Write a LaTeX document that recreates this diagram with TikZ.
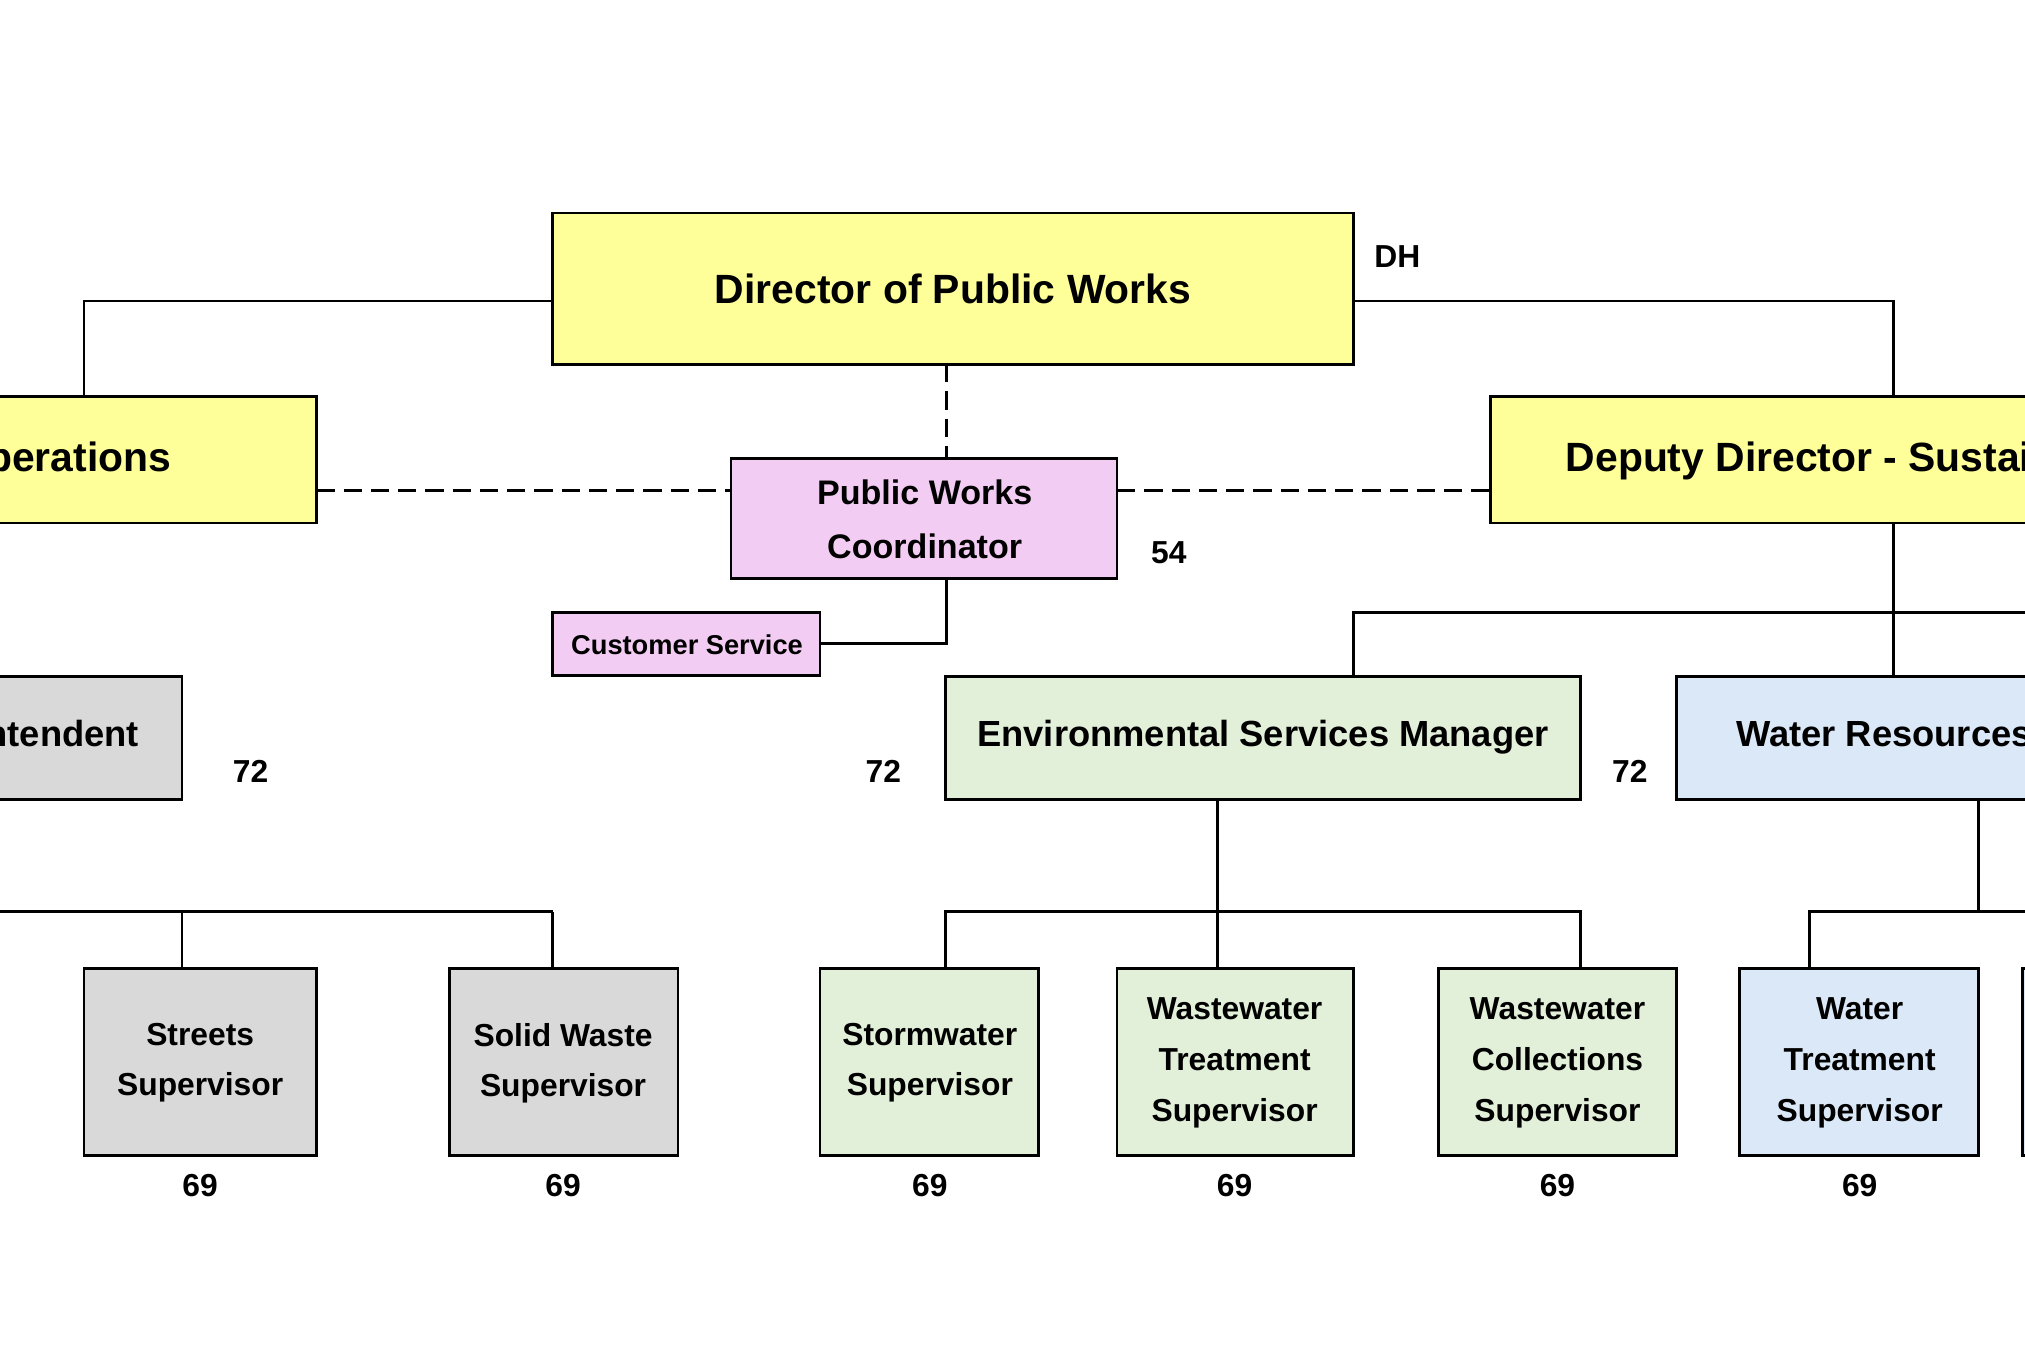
\documentclass[tikz,border=0pt]{standalone}
\usepackage{fontspec}
\setmainfont{Liberation Sans}
\begin{document}
\begin{tikzpicture}[x=0.01cm,y=-0.01cm,
  bx/.style={draw=black,line width=0.6pt,align=center,font=\bfseries\fontsize{7}{11}\selectfont,inner sep=0pt},
  ln/.style={line width=0.6pt},
  dl/.style={line width=0.6pt,dash pattern=on 4pt off 2pt},
  num/.style={font=\bfseries\fontsize{7}{8}\selectfont}]
\useasboundingbox (0,0) rectangle (1568,1045);
\clip (0,0) rectangle (1568,1045);
\definecolor{yel}{HTML}{FFFF99}
\definecolor{pnk}{HTML}{F2CCF2}
\definecolor{grn}{HTML}{E2F0D9}
\definecolor{blu}{HTML}{DAE8F7}
\definecolor{gry}{HTML}{D9D9D9}
% top level
\draw[bx,fill=yel] (428,165) rectangle (1048,282);
\node[font=\bfseries\fontsize{9}{11}\selectfont] (dir) at (738,224) {Director of Public Works};
\node[num] (dh) at (1082,199) {DH};
\draw[bx,fill=yel] (-20,307) rectangle (245,405);
\node[font=\bfseries\fontsize{9}{11}\selectfont,anchor=east] (ops) at (145,357) {Deputy Director - Operations};
\draw[bx,fill=yel] (1154,307) rectangle (1600,405);
\node[font=\bfseries\fontsize{9}{11}\selectfont,anchor=west] (sus) at (1200,357) {Deputy Director - Sustainability};
\draw[ln] (428,233) -| (65,307);
\draw[ln] (1048,233) -| (1466,307);
% coordinator
\draw[dl] (733,282) -- (733,355);
\draw[bx,fill=pnk] (566,355) rectangle (865,448);
\node[align=center,font=\bfseries\fontsize{7.5}{12}\selectfont] (pwc) at (716,402) {Public Works\\Coordinator};
\node[num] (n54) at (905,428) {54};
\draw[dl] (245,380) -- (566,380);
\draw[dl] (865,380) -- (1154,380);
\draw[bx,fill=pnk] (428,474) rectangle (635,523);
\node[font=\bfseries\fontsize{6}{8}\selectfont] (cs) at (532,499) {Customer Service};
\draw[ln] (635,498) -| (733,448);
% managers
\draw[bx,fill=gry] (-20,524) rectangle (141,619);
\node[font=\bfseries\fontsize{8}{10}\selectfont,anchor=east] (sup) at (120,571) {Superintendent};
\node[num] at (194,597) {72};
\node[num] at (684,597) {72};
\draw[bx,fill=grn] (732,524) rectangle (1224,619);
\node[font=\bfseries\fontsize{8}{10}\selectfont] (env) at (978,571) {Environmental Services Manager};
\node[num] at (1262,597) {72};
\draw[bx,fill=blu] (1298,524) rectangle (1600,619);
\node[font=\bfseries\fontsize{8}{10}\selectfont,anchor=west] (wr) at (1332,571) {Water Resources Manager};
\draw[ln] (1466,405) -- (1466,524);
\draw[ln] (1048,524) |- (1600,474);
% supervisors
\draw[ln] (0,706) -- (428,706);
\draw[ln] (141,706) -- (141,750);
\draw[ln] (428,706) -- (428,750);
\draw[ln] (943,619) -- (943,706);
\draw[ln] (732,750) |- (1224,706) -- (1224,750);
\draw[ln] (943,706) -- (943,750);
\draw[ln] (1532,619) -- (1532,706);
\draw[ln] (1401,750) |- (1600,706);
\draw[bx,fill=gry] (-200,750) rectangle (-2,895);
\draw[bx,fill=gry] (65,750) rectangle (245,895);
\node[bx,draw=none] at (155,823) {Streets\\Supervisor};
\draw[bx,fill=gry] (348,750) rectangle (525,895);
\node[bx,draw=none] at (436,823) {Solid Waste\\Supervisor};
\draw[bx,fill=grn] (635,750) rectangle (804,895);
\node[bx,draw=none] at (720,823) {Stormwater\\Supervisor};
\draw[bx,fill=grn] (865,750) rectangle (1048,895);
\node[bx,draw=none,font=\bfseries\fontsize{7}{11.2}\selectfont] at (956,823) {Wastewater\\Treatment\\Supervisor};
\draw[bx,fill=grn] (1114,750) rectangle (1298,895);
\node[bx,draw=none,font=\bfseries\fontsize{7}{11.2}\selectfont] at (1206,823) {Wastewater\\Collections\\Supervisor};
\draw[bx,fill=blu] (1347,750) rectangle (1532,895);
\node[bx,draw=none,font=\bfseries\fontsize{7}{11.2}\selectfont] at (1440,823) {Water\\Treatment\\Supervisor};
\draw[bx,fill=blu] (1566,750) rectangle (1700,895);
\foreach \x in {155,436,720,956,1206,1440} \node[num] at (\x,918) {69};
\end{tikzpicture}
\end{document}
